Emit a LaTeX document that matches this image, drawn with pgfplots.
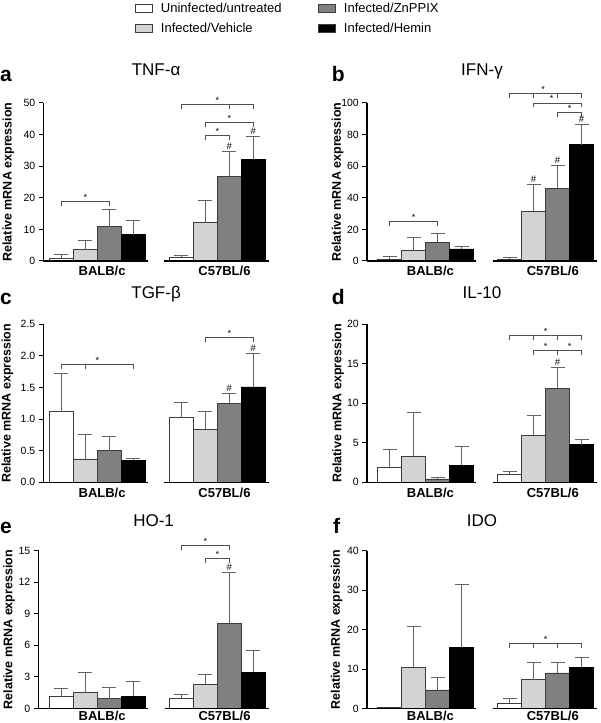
\documentclass[border=0pt]{standalone}
\usepackage{pgfplots}
\pgfplotsset{compat=1.18}
\usepackage{fontspec}
\setmainfont{Liberation Sans}

\definecolor{lg}{RGB}{211,211,211}
\definecolor{dg}{RGB}{128,128,128}
\definecolor{ecol}{RGB}{100,100,100}
\definecolor{bcol}{RGB}{60,60,60}
\definecolor{kcol}{RGB}{80,80,80}

\newcommand{\bk}[3]{\draw[kcol,line width=0.8pt] ([yshift=-4.5pt]axis cs:#1,#3) -- (axis cs:#1,#3) -- (axis cs:#2,#3) -- ([yshift=-4.5pt]axis cs:#2,#3);}
\newcommand{\tk}[2]{\draw[kcol,line width=0.8pt] (axis cs:#1,#2) -- ([yshift=-4.5pt]axis cs:#1,#2);}
\newcommand{\st}[2]{\node[anchor=base,inner sep=0pt,yshift=1pt,font=\fontsize{9}{9}\selectfont] at (axis cs:#1,#2) {*};}
\newcommand{\hs}[2]{\node[anchor=base,inner sep=0pt,yshift=2pt,font=\fontsize{9.5}{9.5}\selectfont] at (axis cs:#1,#2) {\#};}
\newcommand{\seg}[1]{\draw[black,line width=1.4pt] (axis cs:#1,0) -- (axis cs:4.6,0); \draw[black,line width=1.4pt] (axis cs:5.3,0) -- (axis cs:9.65,0);}

\pgfplotsset{
  leg/.style={legend image code/.code={\draw[##1,draw=bcol,line width=0.8pt] (0pt,-4pt) rectangle (17.5pt,4pt);}},
  pan/.style={
    scale only axis, height=158pt, ymin=0, xmax=9.65,
    axis lines*=left, x axis line style={draw=none},
    y axis line style={line width=1.4pt},
    xtick={2.7,7.8}, xticklabels={BALB/c,C57BL/6},
    xtick style={draw=none},
    xticklabel style={font=\fontsize{13}{13}\selectfont\bfseries, yshift=2.5pt},
    ytick style={line width=1pt, black},
    tick align=outside, major tick length=4.5pt,
    yticklabel style={font=\fontsize{10.5}{11}\selectfont},
    /pgf/number format/assume math mode=true,
    ylabel={Relative mRNA expression},
    ylabel style={font=\fontsize{12.5}{13}\selectfont\bfseries, anchor=center},
    title style={font=\fontsize{17}{17}\selectfont, anchor=base, at={(axis description cs:0.5,1)}},
    clip=false, ybar, bar width=1, bar shift=0pt,
    error bars/y dir=plus, error bars/y explicit,
    error bars/error bar style={ecol, line width=0.9pt},
    error bars/error mark options={ecol, line width=0.9pt, mark size=7pt, rotate=90},
  },
  W/.style={fill=white, draw=bcol, line width=0.7pt, leg},
  L/.style={fill=lg, draw=bcol, line width=0.7pt, leg},
  D/.style={fill=dg, draw=bcol, line width=0.7pt, leg},
  K/.style={fill=black, draw=black, line width=0.7pt, leg},
}

\begin{document}
\begin{tikzpicture}
\path[use as bounding box] (0pt,0pt) rectangle (600pt,723pt);

% ---------- a: TNF-alpha ----------
\begin{axis}[pan, at={(43.3pt,462pt)}, anchor=south west, xmin=0.25, width=225.6pt,
  ymax=50, ytick={0,10,...,50},
  ylabel style={at={(axis description cs:-0.155,0.5)}},
  title={TNF-α}, title style={yshift=21pt},
  legend columns=2, transpose legend, legend cell align=left,
  legend style={at={(axis description cs:0.404,1.646)}, anchor=north west, draw=none, fill=none,
    font=\fontsize{13}{15}\selectfont, inner sep=0pt, row sep=5pt,
    /tikz/every odd column/.append style={column sep=6pt},
    /tikz/every even column/.append style={column sep=34pt}}]
\addplot[W] coordinates {(1,0.8) +- (0,1.3) (6,1.2) +- (0,0.5)};
\addlegendentry{Uninfected/untreated}
\addplot[L] coordinates {(2,3.6) +- (0,3.0) (7,12.2) +- (0,7.1)};
\addlegendentry{Infected/Vehicle}
\addplot[D] coordinates {(3,10.9) +- (0,5.5) (8,26.7) +- (0,7.9)};
\addlegendentry{Infected/ZnPPIX}
\addplot[K] coordinates {(4,8.3) +- (0,4.4) (9,32.2) +- (0,7.3)};
\addlegendentry{Infected/Hemin}
\seg{0.25}
\bk{1}{3}{18.9} \st{2}{18.9}
\bk{7}{8}{39.6} \st{7.5}{39.6}
\bk{7}{9}{43.8} \st{8}{43.8}
\bk{6}{9}{49.5} \tk{8}{49.5} \st{7.5}{49.5}
\hs{8}{34.6} \hs{9}{39.5}
\end{axis}

% ---------- b: IFN-gamma ----------
\begin{axis}[pan, at={(366.8pt,462pt)}, anchor=south west, xmin=0.05, width=230.4pt,
  ymax=100, ytick={0,20,...,100},
  ylabel style={at={(axis description cs:-0.127,0.5)}},
  title={IFN-γ}, title style={yshift=21pt}]
\addplot[W] coordinates {(1,1.3) +- (0,1.4) (6,1.0) +- (0,1.3)};
\addplot[L] coordinates {(2,7.0) +- (0,7.7) (7,31.6) +- (0,16.6)};
\addplot[D] coordinates {(3,11.8) +- (0,5.9) (8,45.9) +- (0,14.7)};
\addplot[K] coordinates {(4,7.6) +- (0,1.9) (9,73.7) +- (0,12.6)};
\seg{0.05}
\bk{1}{3}{25} \st{2}{25}
\bk{8}{9}{93.9} \st{8.5}{93.9}
\bk{7}{9}{100} \st{7.75}{100}
\bk{6}{9}{106.3} \tk{7}{106.3} \tk{8}{106.3} \st{7.4}{106.3}
\hs{7}{48.2} \hs{8}{60.6} \hs{9}{86.3}
\end{axis}

% ---------- c: TGF-beta ----------
\begin{axis}[pan, at={(43.3pt,240.7pt)}, anchor=south west, xmin=0.25, width=225.6pt,
  ymax=2.5, ytick={0,0.5,...,2.5},
  yticklabel style={/pgf/number format/.cd, fixed, fixed zerofill, precision=1},
  ylabel style={at={(axis description cs:-0.159,0.5)}},
  title={TGF-β}, title style={yshift=19.3pt}]
\addplot[W] coordinates {(1,1.12) +- (0,0.60) (6,1.02) +- (0,0.25)};
\addplot[L] coordinates {(2,0.37) +- (0,0.39) (7,0.84) +- (0,0.28)};
\addplot[D] coordinates {(3,0.50) +- (0,0.23) (8,1.25) +- (0,0.15)};
\addplot[K] coordinates {(4,0.35) +- (0,0.03) (9,1.51) +- (0,0.53)};
\seg{0.25}
\bk{1}{4}{1.87} \tk{2}{1.87} \st{2.5}{1.87}
\bk{7}{9}{2.29} \st{8}{2.29}
\hs{8}{1.40} \hs{9}{2.04}
\end{axis}

% ---------- d: IL-10 ----------
\begin{axis}[pan, at={(366.8pt,240.7pt)}, anchor=south west, xmin=0.05, width=230.4pt,
  ymax=20, ytick={0,5,...,20},
  ylabel style={at={(axis description cs:-0.124,0.5)}},
  title={IL-10}, title style={yshift=19.3pt}]
\addplot[W] coordinates {(1,1.9) +- (0,2.3) (6,1.05) +- (0,0.38)};
\addplot[L] coordinates {(2,3.33) +- (0,5.47) (7,5.95) +- (0,2.55)};
\addplot[D] coordinates {(3,0.42) +- (0,0.21) (8,11.9) +- (0,2.6)};
\addplot[K] coordinates {(4,2.15) +- (0,2.35) (9,4.77) +- (0,0.67)};
\seg{0.05}
\bk{7}{9}{16.7} \tk{8}{16.7} \st{7.5}{16.7} \st{8.5}{16.7}
\bk{6}{9}{18.6} \tk{7}{18.6} \tk{8}{18.6} \st{7.5}{18.6}
\hs{8}{14.5}
\end{axis}

% ---------- e: HO-1 ----------
\begin{axis}[pan, at={(38.3pt,14.5pt)}, anchor=south west, xmin=0.04, width=230.64pt,
  ymax=15, ytick={0,3,...,15},
  xticklabel style={yshift=2.5pt},
  ylabel style={at={(axis description cs:-0.126,0.5)}},
  title={HO-1}, title style={yshift=17.7pt}]
\addplot[W] coordinates {(1,1.11) +- (0,0.8) (6,0.98) +- (0,0.32)};
\addplot[L] coordinates {(2,1.49) +- (0,1.9) (7,2.29) +- (0,0.98)};
\addplot[D] coordinates {(3,0.92) +- (0,1.05) (8,8.1) +- (0,4.77)};
\addplot[K] coordinates {(4,1.18) +- (0,1.36) (9,3.43) +- (0,2.07)};
\seg{0.04}
\bk{7}{8}{14.27} \st{7.5}{14.27}
\bk{6}{8}{15.47} \st{7}{15.47}
\hs{8}{12.87}
\end{axis}

% ---------- f: IDO ----------
\begin{axis}[pan, at={(366.8pt,14.5pt)}, anchor=south west, xmin=0.05, width=230.4pt,
  ymax=40, ytick={0,10,...,40},
  xticklabel style={yshift=2.5pt},
  ylabel style={at={(axis description cs:-0.131,0.5)}},
  title={IDO}, title style={yshift=17.7pt}]
\addplot[W, error bars/y dir=none] coordinates {(1,0.2)};
\addplot[W] coordinates {(6,1.43) +- (0,1.17)};
\addplot[L] coordinates {(2,10.5) +- (0,10.3) (7,7.26) +- (0,4.34)};
\addplot[D] coordinates {(3,4.7) +- (0,3.15) (8,9.0) +- (0,2.56)};
\addplot[K] coordinates {(4,15.5) +- (0,15.9) (9,10.4) +- (0,2.4)};
\seg{0.05}
\bk{6}{9}{16.4} \tk{7}{16.4} \tk{8}{16.4} \st{7.5}{16.4}
\end{axis}

% panel letters
\begin{scope}[every node/.style={anchor=base west, inner sep=0pt, font=\fontsize{21}{21}\selectfont\bfseries}]
\node at (0pt,641.3pt) {a};
\node at (331.7pt,641.3pt) {b};
\node at (0pt,418pt) {c};
\node at (331.7pt,418pt) {d};
\node at (0pt,189.7pt) {e};
\node at (333pt,189.7pt) {f};
\end{scope}
\end{tikzpicture}
\end{document}
